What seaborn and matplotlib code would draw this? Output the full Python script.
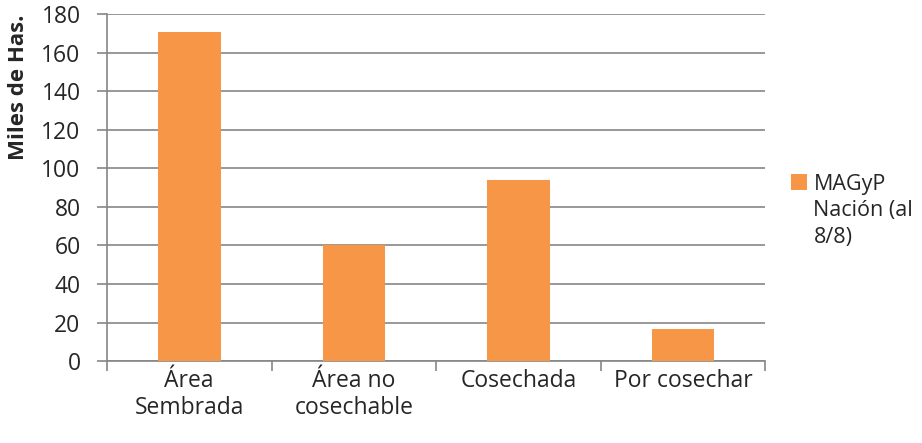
import matplotlib
matplotlib.use('Agg')
import matplotlib.pyplot as plt
import seaborn as sns
import pandas as pd
import numpy as np

# datos
categorias = ['Área\nSembrada', 'Área no\ncosechable', 'Cosechada', 'Por cosechar']
miles_has = [170.5, 60, 94, 16.5]
serie = 'MAGyP\nNación (al\n8/8)'
y_ticks = list(range(0, 181, 20))

sns.set_theme(style='white')
plt.rcParams['font.family'] = ['Open Sans', 'DejaVu Sans']

df = pd.DataFrame({'categoria': categorias, 'valor': miles_has, 'serie': serie})

fig = plt.figure(figsize=(9.22, 4.43), dpi=100)
ax = fig.add_axes([0.116, 0.185, 0.714, 0.783])

sns.barplot(data=df, x='categoria', y='valor', hue='serie', palette=['#F79646'],
            width=0.38, ax=ax, saturation=1, linewidth=0, zorder=3)

ax.set_ylim(0, 180)
ax.set_yticks(y_ticks)
ax.set_xlim(-0.5, len(categorias) - 0.5)
ax.grid(axis='y', color='#868686', linewidth=1.2, zorder=0)
ax.set_axisbelow(True)

for s in ['top', 'right']:
    ax.spines[s].set_visible(False)
for s in ['left', 'bottom']:
    ax.spines[s].set_color('#868686')
    ax.spines[s].set_linewidth(1.2)

fs = 16.5
ax.tick_params(axis='y', which='major', length=7, color='#868686', width=1.2,
               labelsize=fs, pad=12, direction='out', left=True)
ax.tick_params(axis='x', which='major', length=0, labelsize=fs, pad=6)
for t in ax.get_xticklabels():
    t.set_linespacing(1.15)
ax.set_xticks(np.arange(-0.5, len(categorias) + 0.5, 1), minor=True)
ax.tick_params(axis='x', which='minor', length=7, color='#868686', width=1.2,
               direction='out', bottom=True)

ax.set_xlabel('')
ax.set_ylabel('Miles de Has.', fontsize=16, fontweight='bold')
ax.yaxis.set_label_coords(-0.118, 0.79)

leg = ax.legend(loc='upper left', bbox_to_anchor=(0.846, 0.632),
                bbox_transform=fig.transFigure, frameon=False, borderpad=0,
                fontsize=15.5, handlelength=0.75, handleheight=0.75, handletextpad=0.3)
for t in leg.get_texts():
    t.set_linespacing(1.35)
# cuadro alineado con la primera línea del texto
for col in leg._legend_handle_box.get_children():
    for fila in col.get_children():
        fila.align = 'top'

fig.savefig('out.png', dpi=100)
